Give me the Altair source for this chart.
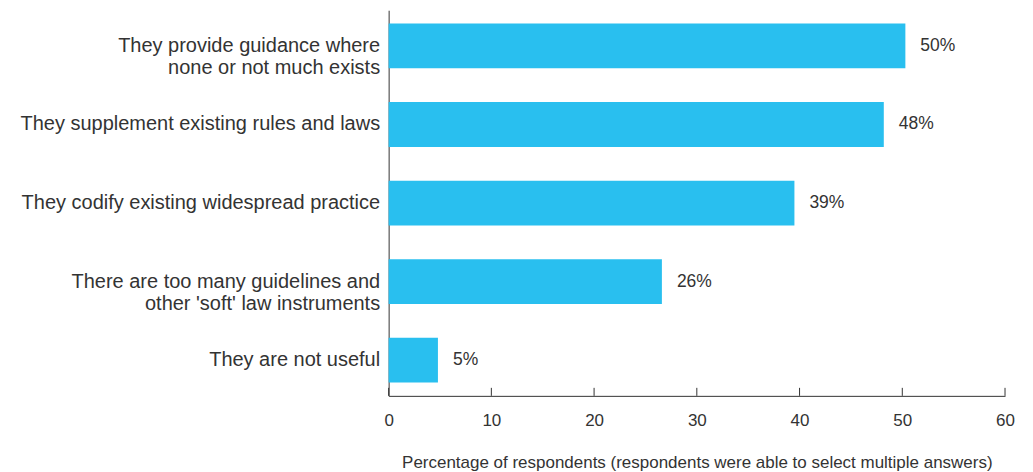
import altair as alt
import pandas as pd

categories = [
    "They provide guidance where|none or not much exists",
    "They supplement existing rules and laws",
    "They codify existing widespread practice",
    "There are too many guidelines and|other 'soft' law instruments",
    "They are not useful",
]
values = [50.3, 48.2, 39.5, 26.6, 4.8]
labels = ["50%", "48%", "39%", "26%", "5%"]
ticks = [0, 10, 20, 30, 40, 50, 60]

df = pd.DataFrame({"cat": categories, "val": values, "lab": labels})
tdf = pd.DataFrame({"t": ticks})

W, H = 617, 386
FONT = "Liberation Sans"
TXT = "#333333"

xscale = alt.Scale(domain=[0, 60], nice=False, zero=True)
yscale = alt.Scale(domain=categories, paddingInner=0.43, paddingOuter=0.17)

bars = alt.Chart(df).mark_bar(color="#29BFEF").encode(
    x=alt.X("val:Q", scale=xscale,
            axis=alt.Axis(values=ticks, tickSize=0, labelPadding=17, grid=False, labelFlush=False,
                          title="Percentage of respondents (respondents were able to select multiple answers)",
                          titlePadding=26, domainColor=TXT)),
    y=alt.Y("cat:N", sort=categories, scale=yscale,
            axis=alt.Axis(title=None, ticks=False, labelPadding=9, domainColor=TXT,
                          labelExpr="split(datum.label, '|')", labelLimit=400,
                          labelLineHeight=22)),
)

text = alt.Chart(df).mark_text(align="left", dx=15, fontSize=17.5, font=FONT, color=TXT).encode(
    x=alt.X("val:Q", scale=xscale),
    y=alt.Y("cat:N", sort=categories, scale=yscale),
    text="lab:N",
)

tickmarks = alt.Chart(tdf).mark_rule(color=TXT, strokeWidth=1).encode(
    x=alt.X("t:Q", scale=xscale),
    y=alt.value(H - 8),
    y2=alt.value(H),
)

chart = alt.layer(bars, text, tickmarks).properties(
    width=W, height=H,
    autosize=alt.AutoSizeParams(type="none"),
    padding={"left": 381, "top": 2, "right": 20, "bottom": 76},
).configure_view(stroke=None).configure_axis(
    labelFont=FONT, titleFont=FONT, labelColor=TXT, titleColor=TXT,
    labelFontSize=17, titleFontSize=17, titleFontWeight="normal",
).configure_axisY(labelFontSize=20)

chart.save("out.html", embed_options={"renderer": "svg", "actions": False})
